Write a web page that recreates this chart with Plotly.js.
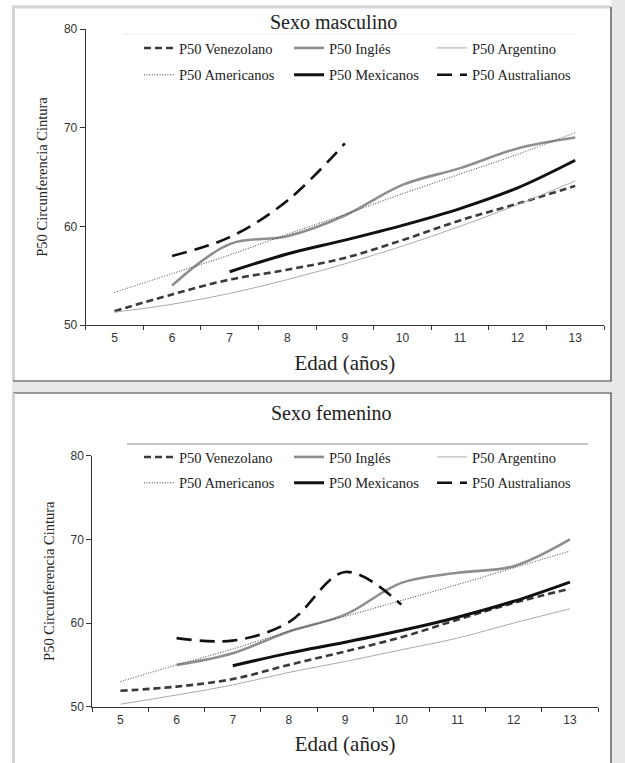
<!DOCTYPE html>
<html>
<head>
<meta charset="utf-8">
<script src="https://cdn.plot.ly/plotly-3.0.1.min.js"></script>
<style>html,body{margin:0;padding:0;background:#fff;}#chart{width:625px;height:763px;}</style>
</head>
<body>
<div id="chart"></div>
<script>
// ---- Data ----
const ages = [5, 6, 7, 8, 9, 10, 11, 12, 13];
const ageLabels = ['5', '6', '7', '8', '9', '10', '11', '12', '13'];
const seriesNames = ['P50 Venezolano', 'P50 Inglés', 'P50 Argentino', 'P50 Americanos', 'P50 Mexicanos', 'P50 Australianos'];

// Sexo masculino
const venM = [51.4, 53.1, 54.6, 55.6, 56.8, 58.6, 60.6, 62.3, 64.1];
const ingM = [null, 54.0, 58.2, 59.0, 61.1, 64.2, 65.9, 67.9, 69.0];
const argM = [51.3, 52.1, 53.2, 54.6, 56.2, 58.0, 60.0, 62.2, 64.6];
const ameM = [53.3, 55.2, 57.1, 59.2, 61.2, 63.3, 65.3, 67.3, 69.5];
const mexM = [null, null, 55.4, 57.2, 58.6, 60.1, 61.8, 63.9, 66.7];
const ausM = [null, 57.0, 58.9, 62.6, 68.4, null, null, null, null];

// Sexo femenino
const venF = [51.9, 52.4, 53.3, 55.0, 56.6, 58.3, 60.4, 62.4, 64.1];
const ingF = [null, 55.0, 56.4, 59.0, 61.0, 64.8, 66.0, 66.8, 70.0];
const argF = [50.3, 51.4, 52.6, 54.1, 55.4, 56.8, 58.2, 60.0, 61.7];
const ameF = [53.0, 55.0, 56.9, 59.0, 60.8, 62.7, 64.6, 66.6, 68.6];
const mexF = [null, null, 54.9, 56.4, 57.7, 59.1, 60.7, 62.6, 64.9];
const ausF = [null, 58.2, 57.9, 60.1, 66.1, 62.2, null, null, null];

const panelTitles = ['Sexo masculino', 'Sexo femenino'];
const xTitle = 'Edad (años)';
const yTitle = 'P50 Circunferencia Cintura';

// ---- Styles ----
const styles = [
  {color: '#3a3a3a', width: 2.6, dash: '7px,4px'},
  {color: '#8e8e8e', width: 2.6, dash: 'solid'},
  {color: '#ababab', width: 1, dash: 'solid'},
  {color: '#3a3a3a', width: 1, dash: '1px,1.6px'},
  {color: '#111111', width: 3, dash: 'solid'},
  {color: '#111111', width: 2.6, dash: '15px,8px'}
];
// legend column (0,1,2) of each series: 3 columns x 2 rows as in the reference
const legendColumn = [0, 1, 2, 0, 1, 2];

const W = 625, H = 763;
const PX = x => x / W;
const PY = y => 1 - y / H;

const serif = 'Liberation Serif, Times New Roman, serif';
const narrow = 'Liberation Sans Narrow, Arial Narrow, Liberation Sans, Arial, sans-serif';

function makeTraces(arrs, xa, ya, legendIds, tag) {
  return arrs.map((vals, i) => ({
    type: 'scatter', mode: 'lines',
    x: ages, y: vals,
    name: seriesNames[i],
    xaxis: xa, yaxis: ya,
    legend: legendIds[legendColumn[i]],
    legendgroup: tag + i,
    connectgaps: false,
    line: {color: styles[i].color, width: styles[i].width, dash: styles[i].dash, shape: 'spline', smoothing: 1},
    hoverinfo: 'x+y+name'
  }));
}

const traces = makeTraces([venM, ingM, argM, ameM, mexM, ausM], 'x', 'y', ['legend', 'legend2', 'legend3'], 'm')
  .concat(makeTraces([venF, ingF, argF, ameF, mexF, ausF], 'x2', 'y2', ['legend4', 'legend5', 'legend6'], 'f'));

function xAxis(domain, anchor) {
  return {
    domain: domain, anchor: anchor,
    range: [4.5, 13.5], fixedrange: true,
    tickmode: 'array', tickvals: ages, ticktext: ageLabels,
    ticks: '', showgrid: false, zeroline: false,
    showline: true, linecolor: '#333', linewidth: 1,
    tickfont: {family: narrow, size: 12, color: '#333'},
    ticklabelstandoff: 2,
    minor: {tickmode: 'linear', tick0: 4.5, dtick: 1, ticks: 'outside', ticklen: 4, tickcolor: '#333', tickwidth: 1, showgrid: false},
    title: {text: xTitle, font: {family: serif, size: 21, color: '#222'}, standoff: 10}
  };
}
function yAxis(domain, anchor) {
  return {
    domain: domain, anchor: anchor,
    range: [50, 80], fixedrange: true,
    tickmode: 'linear', tick0: 50, dtick: 10,
    ticks: 'outside', ticklen: 5, tickcolor: '#333', tickwidth: 1,
    showgrid: false, zeroline: false,
    showline: true, linecolor: '#333', linewidth: 1,
    tickfont: {family: narrow, size: 12, color: '#333'},
    title: {text: yTitle, font: {family: serif, size: 14.5, color: '#222'}, standoff: 12}
  };
}

function legendCfg(leftPx, topPx, gap) {
  return {
    orientation: 'v', x: PX(leftPx), xanchor: 'left', y: PY(topPx), yanchor: 'top',
    bgcolor: 'rgba(0,0,0,0)', borderwidth: 0,
    font: {family: serif, size: 14.5, color: '#222'},
    traceorder: 'grouped', tracegroupgap: gap,
    itemclick: false, itemdoubleclick: false
  };
}
const legendLeft = [139, 289, 432];

const shapes = [
  // right grey gutter and gap between panels
  {type: 'rect', xref: 'paper', yref: 'paper', x0: PX(611.5), x1: PX(625), y0: PY(763), y1: PY(0), fillcolor: '#e8e8e8', line: {width: 0}, layer: 'below'},
  {type: 'rect', xref: 'paper', yref: 'paper', x0: PX(12), x1: PX(625), y0: PY(392.5), y1: PY(381.5), fillcolor: '#e8e8e8', line: {width: 0}, layer: 'below'},
  // top panel frame
  {type: 'line', xref: 'paper', yref: 'paper', x0: PX(12), x1: PX(611), y0: PY(7), y1: PY(7), line: {color: '#d4d4d4', width: 3}},
  {type: 'line', xref: 'paper', yref: 'paper', x0: PX(13.5), x1: PX(13.5), y0: PY(6), y1: PY(381), line: {color: '#d4d4d4', width: 3}},
  {type: 'line', xref: 'paper', yref: 'paper', x0: PX(611), x1: PX(611), y0: PY(7), y1: PY(381), line: {color: '#3a3a3a', width: 1.2}},
  {type: 'line', xref: 'paper', yref: 'paper', x0: PX(13), x1: PX(611.5), y0: PY(381), y1: PY(381), line: {color: '#3a3a3a', width: 1.2}},
  // bottom panel frame
  {type: 'line', xref: 'paper', yref: 'paper', x0: PX(13), x1: PX(611.5), y0: PY(393), y1: PY(393), line: {color: '#3a3a3a', width: 1.2}},
  {type: 'line', xref: 'paper', yref: 'paper', x0: PX(13.5), x1: PX(13.5), y0: PY(393), y1: PY(763), line: {color: '#d4d4d4', width: 3}},
  {type: 'line', xref: 'paper', yref: 'paper', x0: PX(611), x1: PX(611), y0: PY(393), y1: PY(763), line: {color: '#3a3a3a', width: 1.2}},
  // faint legend-box rules
  {type: 'line', xref: 'paper', yref: 'paper', x0: PX(123), x1: PX(574), y0: PY(34), y1: PY(34), line: {color: '#eeeeee', width: 1}},
  {type: 'line', xref: 'paper', yref: 'paper', x0: PX(127), x1: PX(588), y0: PY(444), y1: PY(444), line: {color: '#8a8a8a', width: 1}}
];

const layout = {
  width: W, height: H,
  margin: {l: 0, r: 0, t: 0, b: 0, pad: 0},
  paper_bgcolor: '#ffffff', plot_bgcolor: 'rgba(0,0,0,0)',
  showlegend: true,
  xaxis: xAxis([PX(85.7), PX(604)], 'y'),
  yaxis: yAxis([PY(325), PY(29)], 'x'),
  xaxis2: xAxis([PX(92.3), PX(598)], 'y2'),
  yaxis2: yAxis([PY(706.7), PY(455.7)], 'x2'),
  legend: legendCfg(legendLeft[0], 32, 5),
  legend2: legendCfg(legendLeft[1], 32, 5),
  legend3: legendCfg(legendLeft[2], 32, 5),
  legend4: legendCfg(legendLeft[0], 441, 4),
  legend5: legendCfg(legendLeft[1], 441, 4),
  legend6: legendCfg(legendLeft[2], 441, 4),
  annotations: [
    {text: panelTitles[0], xref: 'paper', yref: 'paper', x: PX(333), y: PY(22.5), xanchor: 'center', yanchor: 'middle', showarrow: false, font: {family: serif, size: 20, color: '#222'}},
    {text: panelTitles[1], xref: 'paper', yref: 'paper', x: PX(331), y: PY(413), xanchor: 'center', yanchor: 'middle', showarrow: false, font: {family: serif, size: 20, color: '#222'}}
  ],
  shapes: shapes
};

Plotly.newPlot('chart', traces, layout, {displayModeBar: false, staticPlot: true});
</script>
</body>
</html>
